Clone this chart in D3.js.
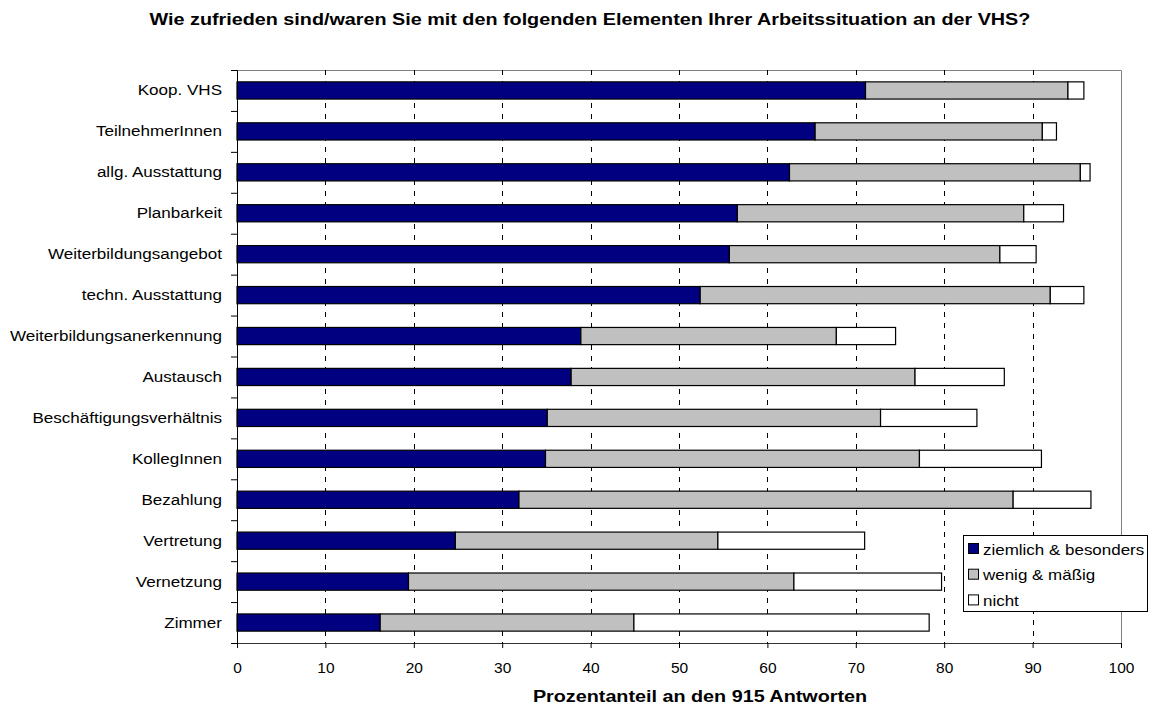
<!DOCTYPE html>
<html>
<head>
<meta charset="utf-8">
<script src="https://cdn.jsdelivr.net/npm/d3@7"></script>
<style>
  body { margin: 0; background: #fff; }
  text { font-family: "Liberation Sans", Arial, sans-serif; fill: #000; }
</style>
</head>
<body>
<svg id="chart"></svg>
<script>
const categories = ["Koop. VHS", "TeilnehmerInnen", "allg. Ausstattung", "Planbarkeit",
    "Weiterbildungsangebot", "techn. Ausstattung", "Weiterbildungsanerkennung", "Austausch",
    "Beschäftigungsverhältnis", "KollegInnen", "Bezahlung", "Vertretung", "Vernetzung", "Zimmer"];
const ziemlich = [71.1, 65.4, 62.5, 56.6, 55.7, 52.4, 38.9, 37.8, 35.1, 34.9, 31.9, 24.7, 19.4, 16.2];
const wenig    = [22.9, 25.7, 32.9, 32.4, 30.6, 39.6, 28.9, 38.9, 37.7, 42.3, 55.9, 29.7, 43.6, 28.7];
const nicht    = [1.8, 1.6, 1.1, 4.5, 4.1, 3.8, 6.7, 10.1, 10.9, 13.8, 8.8, 16.6, 16.7, 33.4];
const seriesNames = ["ziemlich & besonders", "wenig & mäßig", "nicht"];
const xTicks = [0, 10, 20, 30, 40, 50, 60, 70, 80, 90, 100];
const chartTitle = "Wie zufrieden sind/waren Sie mit den folgenden Elementen Ihrer Arbeitssituation an der VHS?";
const xTitle = "Prozentanteil an den 915 Antworten";

const colors = ["#000080", "#C0C0C0", "#FFFFFF"];

// stretch text horizontally (the original rendering is wider than the font)
function stretch(sel, k) {
    sel.each(function() {
        const w = this.getComputedTextLength();
        d3.select(this).attr("textLength", w * k).attr("lengthAdjust", "spacingAndGlyphs");
    });
}

const width = 1149, height = 705;
const margin = {top: 70, right: 28, bottom: 62, left: 237};
const innerW = width - margin.left - margin.right;
const innerH = height - margin.top - margin.bottom;

const svg = d3.select("#chart").attr("width", width).attr("height", height);
const chart = svg.append("g").attr("transform", `translate(${margin.left},${margin.top})`);

const table = categories.map((c, i) => ({cat: c, z: ziemlich[i], w: wenig[i], n: nicht[i]}));
const stack = d3.stack().keys(["z", "w", "n"])(table);

const xscale = d3.scaleLinear().domain([0, 100]).range([0, innerW]);
const yscale = d3.scaleBand().domain(categories).range([0, innerH])
    .paddingInner(0.58).paddingOuter(0.29);
const yedge = d3.scaleLinear().domain([0, categories.length]).range([0, innerH]);

// frame (top + right in gray)
chart.append("path")
    .attr("d", `M0,0.5H${innerW + 0.5}V${innerH}`)
    .attr("fill", "none").attr("stroke", "#808080");

// dashed grid
chart.append("g").selectAll("line")
    .data(xTicks.slice(1, -1))
    .join("line")
    .attr("x1", d => Math.round(xscale(d)) + 0.5).attr("x2", d => Math.round(xscale(d)) + 0.5)
    .attr("y1", 0).attr("y2", innerH)
    .attr("stroke", "#000").attr("stroke-dasharray", "5,6");

// bars
chart.append("g").selectAll("g")
    .data(stack)
    .join("g")
    .attr("fill", (d, i) => colors[i])
    .selectAll("rect")
    .data(d => d)
    .join("rect")
    .attr("x", d => xscale(d[0]))
    .attr("y", d => yscale(d.data.cat))
    .attr("width", d => xscale(d[1]) - xscale(d[0]))
    .attr("height", yscale.bandwidth())
    .attr("stroke", "#000").attr("stroke-width", 1.2);

// y axis: tick marks at band edges, labels at band centers
chart.append("g")
    .call(d3.axisLeft(yedge).tickValues(d3.range(categories.length + 1)).tickSize(6).tickFormat(""))
    .call(g => g.select(".domain").attr("stroke", "#000"));
const ylab = chart.append("g")
    .call(d3.axisLeft(yscale).tickSize(0).tickPadding(15))
    .call(g => g.select(".domain").remove());
ylab.selectAll("text").attr("font-size", "15.5px").attr("font-family", "Liberation Sans, Arial, sans-serif")
    .attr("fill", "#000");
stretch(ylab.selectAll("text"), 1.1);

// x axis
const xg = chart.append("g")
    .attr("transform", `translate(0,${innerH})`)
    .call(d3.axisBottom(xscale).tickValues(xTicks).tickSize(5).tickPadding(14));
xg.select(".domain").attr("stroke", "#333");
xg.selectAll("text").attr("font-size", "15.5px").attr("font-family", "Liberation Sans, Arial, sans-serif")
    .attr("fill", "#000");

// titles
const t1 = svg.append("text")
    .text(chartTitle)
    .attr("x", 590).attr("y", 25)
    .attr("text-anchor", "middle")
    .attr("font-size", "16px").attr("font-weight", "bold");
stretch(t1, 1.235);

const t2 = svg.append("text")
    .text(xTitle)
    .attr("x", 700).attr("y", 702)
    .attr("text-anchor", "middle")
    .attr("font-size", "16px").attr("font-weight", "bold");
stretch(t2, 1.235);

// legend
const legend = svg.append("g").attr("transform", "translate(963,535)");
legend.append("rect")
    .attr("x", 0.5).attr("y", 0.5).attr("width", 184).attr("height", 76)
    .attr("fill", "#fff").attr("stroke", "#000");
const items = legend.selectAll("g.item")
    .data(seriesNames)
    .join("g")
    .attr("class", "item")
    .attr("transform", (d, i) => `translate(0,${i * 25.7})`);
items.append("rect")
    .attr("x", 5.5).attr("y", 8.5).attr("width", 10).attr("height", 10)
    .attr("fill", (d, i) => colors[i]).attr("stroke", "#000");
const ltext = items.append("text")
    .text(d => d)
    .attr("x", 20).attr("y", 19.5)
    .attr("font-size", "14.5px");
stretch(ltext, 1.17);
</script>
</body>
</html>
